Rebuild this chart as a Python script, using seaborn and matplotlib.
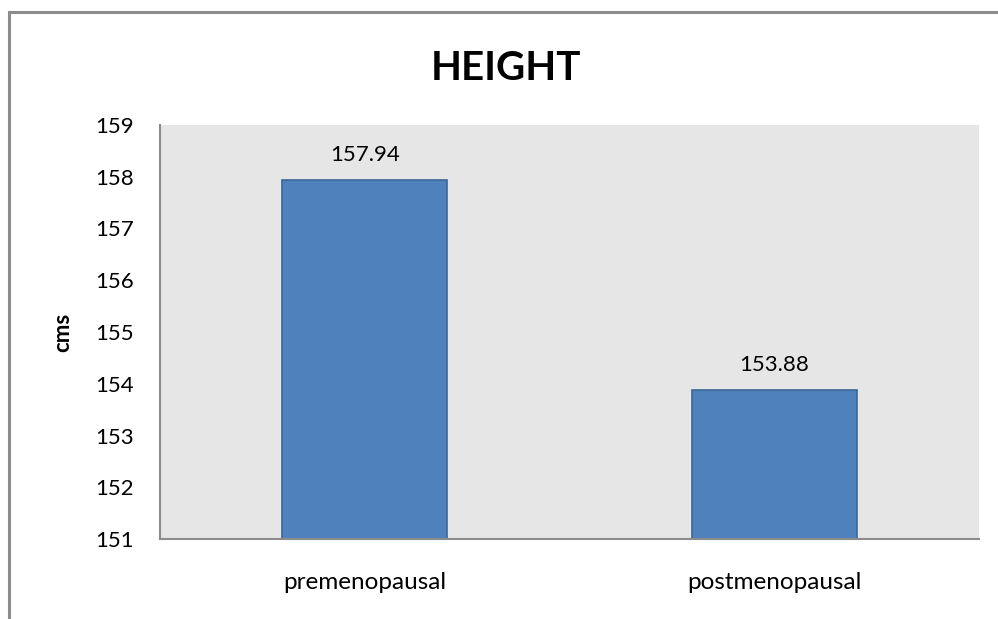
import matplotlib
matplotlib.use("Agg")
import matplotlib.pyplot as plt
import seaborn as sns
import pandas as pd
from matplotlib.patches import Rectangle

categories = ["premenopausal", "postmenopausal"]
heights = [157.94, 153.88]
y_ticks = [151, 152, 153, 154, 155, 156, 157, 158, 159]

df = pd.DataFrame({"group": categories, "height": heights})

sns.set_theme(style="white")
plt.rcParams["font.family"] = ["Lato", "DejaVu Sans"]

fig = plt.figure(figsize=(9.98, 6.19), dpi=100)
W, H = 998, 619
ax = fig.add_axes([160 / W, 1 - 539 / H, (979 - 160) / W, (539 - 125) / H])
ax.set_facecolor("#e6e6e6")

sns.barplot(data=df, x="group", y="height", ax=ax, color="#4f81bd",
            width=0.403, saturation=1, edgecolor="#3c669a", linewidth=1.2)

ax.set_ylim(y_ticks[0], y_ticks[-1])
ax.set_yticks(y_ticks)
ax.set_yticklabels([str(t) for t in y_ticks], fontsize=16, color="#000000")
ax.set_xticks(range(len(categories)))
ax.set_xticklabels(categories, fontsize=17.5, color="#000000")
ax.tick_params(axis="y", length=0, pad=19)
ax.tick_params(axis="x", length=0, pad=24)
ax.set_xlabel("")
ax.set_ylabel("")

for s in ["top", "right"]:
    ax.spines[s].set_visible(False)
for s in ["left", "bottom"]:
    ax.spines[s].set_color("#8c8c8c")
    ax.spines[s].set_linewidth(1.5)

for container in ax.containers:
    ax.bar_label(container, labels=[f"{v:.2f}" for v in heights],
                 padding=11, fontsize=16, color="#000000")

fig.text(506 / W, 1 - 68 / H, "HEIGHT", ha="center", va="center",
         fontsize=29, fontweight="bold", color="#000000")
fig.text(63 / W, 1 - 332 / H, "cms", ha="center", va="center", rotation=90,
         fontsize=16, fontweight="bold", color="#000000")

# chart frame, left and top edges visible
fig.patches.append(Rectangle((8.5 / W, -0.05), 1.2, 1 - 12 / H + 0.05,
                             transform=fig.transFigure, fill=False,
                             edgecolor="#8c8c8c", linewidth=2.2))

fig.savefig("out.png", dpi=100)
